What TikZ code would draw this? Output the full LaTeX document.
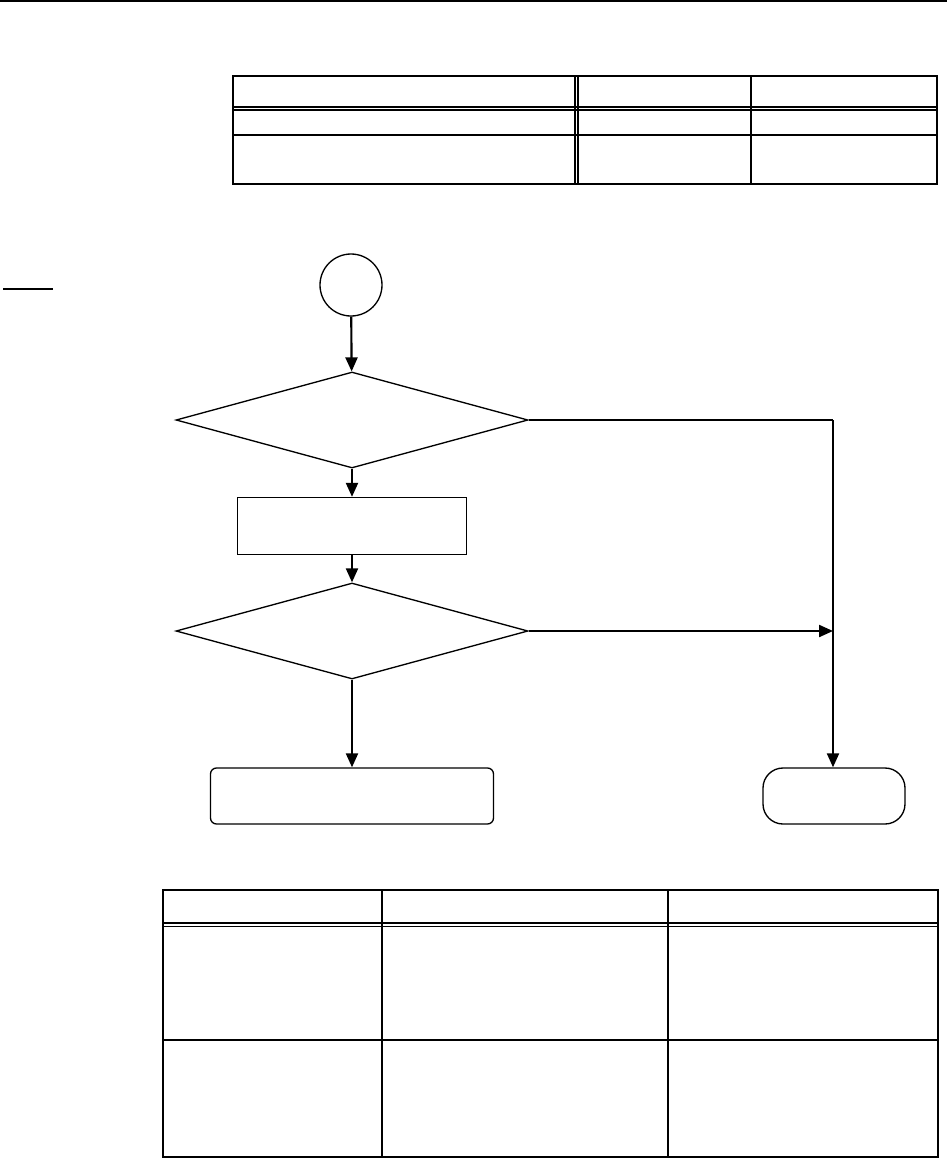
\documentclass[tikz,border=0pt]{standalone}
\usetikzlibrary{arrows.meta,shapes.geometric}
\begin{document}
\begin{tikzpicture}[x=0.75pt,y=-0.75pt,
  shapeline/.style={draw=black,line width=1pt,inner sep=0pt},
  flowarrow/.style={line width=1.6pt,-{Triangle[length=10.5pt,width=9pt]}},
  flowline/.style={line width=1.6pt},
  tableline/.style={line width=1.1pt},
  decision/.style={shapeline,diamond,minimum width=264pt,minimum height=72pt,aspect=3.67},
  process/.style={shapeline,rectangle,minimum width=171.75pt,minimum height=42.75pt},
  outbox/.style={shapeline,rectangle,rounded corners=4.5pt,minimum width=212.25pt,minimum height=42pt},
  terminal/.style={shapeline,rectangle,rounded corners=15pt,minimum width=106.5pt,minimum height=42pt},
  startcircle/.style={shapeline,circle,minimum size=46.5pt}]
\useasboundingbox (0,0) rectangle (947,1161);
% top rule
\draw[line width=2pt] (0,1) -- (947,1);
% top table
\draw[tableline] (233,76) rectangle (937,184);
\draw[tableline] (233,107) -- (937,107);
\draw[tableline] (233,110) -- (937,110);
\draw[tableline] (233,135) -- (937,135);
\draw[tableline] (575,76) -- (575,184);
\draw[tableline] (578,76) -- (578,184);
\draw[tableline] (751,76) -- (751,184);
% short rule at left
\draw[line width=1pt] (3,289) -- (53,289);
% flowchart
\node[startcircle] (start) at (351,285) {};
\node[decision] (d1) at (352,420) {};
\node[process] (p1) at (352,526) {};
\node[decision] (d2) at (352,631) {};
\node[outbox] (out) at (352,796) {};
\node[terminal] (end) at (834,796) {};
\coordinate (j1) at (833,420);
\coordinate (j2) at (833,631);
\draw[flowarrow] (start) -- (d1);
\draw[flowarrow] (d1) -- (p1);
\draw[flowarrow] (p1) -- (d2);
\draw[flowarrow] (d2) -- (out);
\draw[flowline] (d1.east) -- (j1);
\draw[flowarrow] (j1) -- (end.north -| j1);
\draw[flowarrow] (d2.east) -- (j2);
% bottom table
\draw[tableline] (163,890) rectangle (938,1157);
\draw[tableline] (163,923) -- (938,923);
\draw[tableline] (163,926.5) -- (938,926.5);
\draw[tableline] (163,1040) -- (938,1040);
\draw[tableline] (382,890) -- (382,1157);
\draw[tableline] (668,890) -- (668,1157);
\end{tikzpicture}
\end{document}
